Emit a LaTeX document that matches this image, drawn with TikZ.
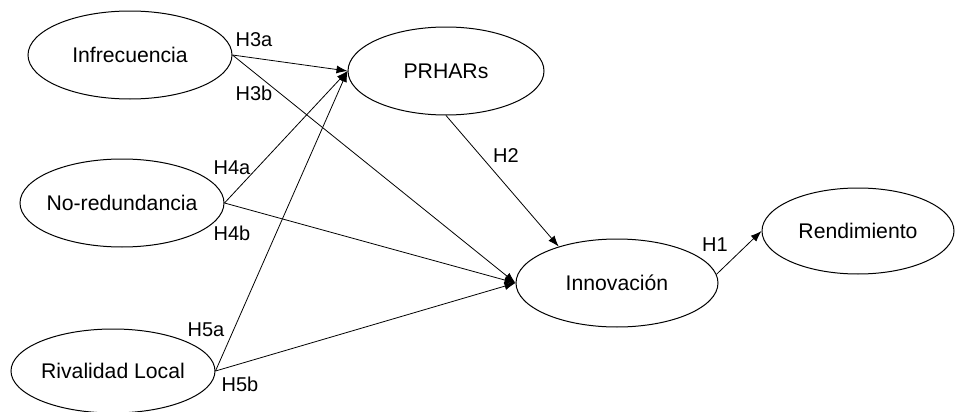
\documentclass[tikz,border=0pt]{standalone}
\usepackage{fontspec}
\setmainfont{Liberation Sans}
\usetikzlibrary{shapes,arrows.meta,positioning}

\begin{document}
\begin{tikzpicture}[
    x=0.5pt, y=-0.5pt,
    every node/.style={font=\fontsize{10}{12}\selectfont},
    construct/.style={draw, ellipse, line width=0.5pt, inner ysep=0pt, inner xsep=-20pt, minimum width=102pt, minimum height=44pt, font=\fontsize{10.6}{12}\selectfont},
    link/.style={draw, line width=0.4pt, -{Latex[length=5.5pt,width=4pt]}},
    hyp/.style={inner sep=0pt}
]
\useasboundingbox (0,0) rectangle (960,412);

% constructs
\node[construct] (inf) at (130,55) {Infrecuencia};
\node[construct] (nored) at (122,203) {No-redundancia};
\node[construct, minimum height=42pt] (riv) at (113,371) {Rivalidad Local};
\node[construct, minimum width=98pt] (prh) at (446,71) {PRHARs};
\node[construct, minimum width=101pt] (inn) at (617,283) {Innovación};
\node[construct, minimum width=96pt, minimum height=43pt] (rend) at (858,231) {Rendimiento};

% paths
\draw[link] (inf.east) -- (prh.west);
\draw[link] (inf.east) -- (inn.west);
\draw[link] (nored.east) -- (prh.west);
\draw[link] (nored.east) -- (inn.west);
\draw[link] (riv.east) -- (prh.west);
\draw[link] (riv.east) -- (inn.west);
\draw[link] (prh.south) -- (inn.148);
\draw[link] (inn.5) -- (rend.west);

% hypotheses
\node[hyp] (h3a) at (254,40) {H3a};
\node[hyp] (h3b) at (254,93) {H3b};
\node[hyp] (h4a) at (232,168) {H4a};
\node[hyp] (h4b) at (232,233) {H4b};
\node[hyp] (h5a) at (206,330) {H5a};
\node[hyp] (h5b) at (240,384) {H5b};
\node[hyp] (h2) at (506,156) {H2};
\node[hyp] (h1) at (715,245) {H1};
\end{tikzpicture}
\end{document}
